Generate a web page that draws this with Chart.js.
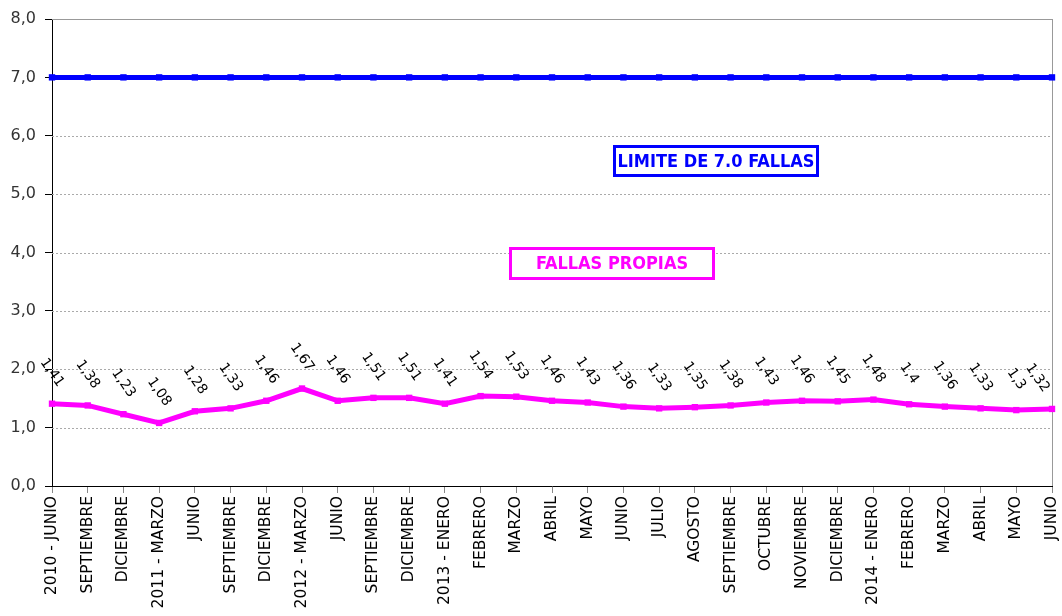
<!DOCTYPE html>
<html>
<head>
<meta charset="utf-8">
<script src="https://cdn.jsdelivr.net/npm/chart.js@4"></script>
<style>
html,body{margin:0;padding:0;background:#fff;}
#c{display:block;}
</style>
</head>
<body>
<canvas id="c" width="1062" height="616"></canvas>
<script>
const categories = ["2010 - JUNIO","SEPTIEMBRE","DICIEMBRE","2011 - MARZO","JUNIO","SEPTIEMBRE","DICIEMBRE","2012 - MARZO","JUNIO","SEPTIEMBRE","DICIEMBRE","2013 - ENERO","FEBRERO","MARZO","ABRIL","MAYO","JUNIO","JULIO","AGOSTO","SEPTIEMBRE","OCTUBRE","NOVIEMBRE","DICIEMBRE","2014 - ENERO","FEBRERO","MARZO","ABRIL","MAYO","JUNIO"];
const limite = [7,7,7,7,7,7,7,7,7,7,7,7,7,7,7,7,7,7,7,7,7,7,7,7,7,7,7,7,7];
const fallasPropias = [1.41,1.38,1.23,1.08,1.28,1.33,1.46,1.67,1.46,1.51,1.51,1.41,1.54,1.53,1.46,1.43,1.36,1.33,1.35,1.38,1.43,1.46,1.45,1.48,1.4,1.36,1.33,1.3,1.32];
const pointLabels = ["1,41","1,38","1,23","1,08","1,28","1,33","1,46","1,67","1,46","1,51","1,51","1,41","1,54","1,53","1,46","1,43","1,36","1,33","1,35","1,38","1,43","1,46","1,45","1,48","1,4","1,36","1,33","1,3","1,32"];
const yMin = 0, yMax = 8, yStep = 1;
const legendTexts = ["LIMITE DE 7.0 FALLAS","FALLAS PROPIAS"];

const extras = {
  id: 'extras',
  beforeDatasetsDraw(chart) {
    const ctx = chart.ctx;
    const a = chart.chartArea;
    const ys = chart.scales.y;
    ctx.save();
    ctx.lineWidth = 1;
    ys.ticks.forEach(t => {
      if (t.value === yMin) return;
      const py = Math.round(ys.getPixelForValue(t.value)) + 0.5;
      ctx.strokeStyle = t.value === yMax ? '#999' : '#aaa';
      ctx.setLineDash(t.value === yMax ? [] : [2, 2]);
      ctx.beginPath();
      ctx.moveTo(a.left, py);
      ctx.lineTo(a.right, py);
      ctx.stroke();
    });
    ctx.setLineDash([]);
    ctx.strokeStyle = '#999';
    ctx.beginPath();
    ctx.moveTo(Math.round(a.right) + 0.5, a.top);
    ctx.lineTo(Math.round(a.right) + 0.5, a.bottom);
    ctx.stroke();
    ctx.restore();
  },
  afterDraw(chart) {
    const ctx = chart.ctx;
    ctx.save();
    const boxes = [
      {text: legendTexts[0], color: '#0000FF', x: 613, y: 145, w: 206, h: 32},
      {text: legendTexts[1], color: '#FF00FF', x: 509, y: 247, w: 206, h: 33}
    ];
    boxes.forEach(b => {
      ctx.fillStyle = '#fff';
      ctx.fillRect(b.x, b.y, b.w, b.h);
      ctx.strokeStyle = b.color;
      ctx.lineWidth = 3;
      ctx.strokeRect(b.x + 1.5, b.y + 1.5, b.w - 3, b.h - 3);
      ctx.fillStyle = b.color;
      ctx.font = "bold 18px 'DejaVu Sans Condensed', 'DejaVu Sans', sans-serif";
      ctx.textAlign = 'center';
      ctx.textBaseline = 'middle';
      ctx.fillText(b.text, b.x + b.w / 2, b.y + b.h / 2 + 1);
    });
    ctx.restore();
  },
  afterDatasetsDraw(chart) {
    const ctx = chart.ctx;
    const a = chart.chartArea;
    const meta = chart.getDatasetMeta(1);
    const ang = 55 * Math.PI / 180;
    ctx.save();
    ctx.fillStyle = '#000';
    ctx.font = "14px 'DejaVu Sans', sans-serif";
    ctx.textAlign = 'center';
    ctx.textBaseline = 'middle';
    meta.data.forEach((pt, i) => {
      const w = ctx.measureText(pointLabels[i]).width;
      const half = (w / 2) * Math.cos(ang) + 7 * Math.sin(ang);
      const cx = Math.min(pt.x, a.right - half);
      ctx.save();
      ctx.translate(cx, pt.y - 31);
      ctx.rotate(ang);
      ctx.fillText(pointLabels[i], 0, 0);
      ctx.restore();
    });
    ctx.restore();
  }
};

new Chart(document.getElementById('c'), {
  type: 'line',
  data: {
    labels: categories,
    datasets: [
      {
        label: legendTexts[0],
        data: limite,
        borderColor: '#0000FF',
        backgroundColor: '#0000FF',
        borderWidth: 5,
        pointStyle: 'rect',
        pointRadius: 4.5,
        pointHoverRadius: 4.5,
        pointBorderWidth: 0,
        tension: 0,
        clip: false
      },
      {
        label: legendTexts[1],
        data: fallasPropias,
        borderColor: '#FF00FF',
        backgroundColor: '#FF00FF',
        borderWidth: 5,
        pointStyle: 'rect',
        pointRadius: 4.5,
        pointHoverRadius: 4.5,
        pointBorderWidth: 0,
        tension: 0,
        clip: false
      }
    ]
  },
  options: {
    responsive: false,
    animation: false,
    events: [],
    layout: {padding: {top: 19, right: 10, left: 0, bottom: 0}},
    plugins: {legend: {display: false}, tooltip: {enabled: false}},
    scales: {
      x: {
        offset: false,
        grid: {drawOnChartArea: false, drawTicks: true, tickLength: 7, color: '#888'},
        border: {color: '#000', width: 1},
        ticks: {
          autoSkip: false,
          minRotation: 90,
          maxRotation: 90,
          padding: 3,
          color: '#000',
          font: {family: "'DejaVu Sans', sans-serif", size: 15.5}
        },
        afterFit(s) { s.height = 130; s.paddingRight = 0; s.paddingLeft = 0; }
      },
      y: {
        min: yMin,
        max: yMax,
        grid: {
          drawOnChartArea: false,
          tickColor: '#000',
          tickLength: 7,
          drawTicks: true
        },
        border: {color: '#000', width: 1},
        ticks: {
          stepSize: yStep,
          padding: 9,
          color: '#333',
          font: {family: "'DejaVu Sans', sans-serif", size: 16},
          callback: (v) => Number(v).toFixed(1).replace('.', ',')
        },
        afterFit(s) { s.width = 52; }
      }
    }
  },
  plugins: [extras]
});
</script>
</body>
</html>
